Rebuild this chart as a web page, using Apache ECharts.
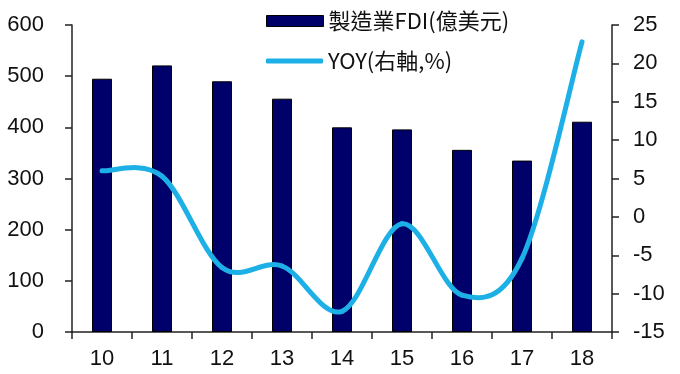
<!DOCTYPE html>
<html>
<head>
<meta charset="utf-8">
<script src="https://cdn.jsdelivr.net/npm/echarts@6/dist/echarts.min.js"></script>
<style>
html,body{margin:0;padding:0;background:#fff;}
#c{width:680px;height:374px;}
</style>
</head>
<body>
<div id="c"></div>
<script>
var categories = ['10','11','12','13','14','15','16','17','18'];
var fdiValues = [495, 521, 490, 456, 400, 396, 356, 335, 411];
var yoyValues = [6.0, 5.3, -6.6, -6.4, -12.3, -0.9, -10.2, -5.4, 22.8];
var leftTicks = {min: 0, max: 600, interval: 100};
var rightTicks = {min: -15, max: 25, interval: 5};
var seriesNames = ['製造業FDI(億美元)', 'YOY(右軸,%)'];

var numFont = "'Liberation Sans', Arial, sans-serif";
var cjkFont = "'Noto Sans CJK TC', 'Noto Sans CJK SC', sans-serif";
var axisColor = '#222';
var lineColor = '#1cb0e6';

// Catmull-Rom style smooth segment through the axis coordinates (Excel-like smoothing)
function renderSegment(params, api) {
  var i = params.dataIndex;
  var n = yoyValues.length;
  if (i >= n - 1) return null;
  function pt(k) {
    k = Math.max(0, Math.min(n - 1, k));
    return api.coord([k, yoyValues[k]]);
  }
  var p0 = pt(i - 1), p1 = pt(i), p2 = pt(i + 1), p3 = pt(i + 2);
  var t = 1 / 6;
  return {
    type: 'bezierCurve',
    z2: 10,
    shape: {
      x1: p1[0], y1: p1[1],
      cpx1: p1[0] + (p2[0] - p0[0]) * t, cpy1: p1[1] + (p2[1] - p0[1]) * t,
      cpx2: p2[0] - (p3[0] - p1[0]) * t, cpy2: p2[1] - (p3[1] - p1[1]) * t,
      x2: p2[0], y2: p2[1]
    },
    style: {stroke: lineColor, lineWidth: 5, fill: null, lineCap: 'round'}
  };
}

var chart = echarts.init(document.getElementById('c'), null, {renderer: 'canvas'});
chart.setOption({
  animation: false,
  backgroundColor: '#fff',
  grid: {left: 72, right: 68, top: 25, bottom: 42, containLabel: false},
  legend: [
    {
      data: [{name: seriesNames[0], icon: 'rect'}], orient: 'vertical', left: 261, top: 5,
      itemWidth: 57, itemHeight: 11, itemGap: 0,
      textStyle: {fontFamily: cjkFont, fontSize: 22, color: '#111'},
      itemStyle: {borderColor: '#000', borderWidth: 1}
    },
    {
      data: [{name: seriesNames[1], icon: 'roundRect'}], orient: 'vertical', left: 261, top: 45,
      itemWidth: 57, itemHeight: 5, itemGap: 0,
      textStyle: {fontFamily: cjkFont, fontSize: 22, color: '#111'},
      itemStyle: {color: lineColor, borderWidth: 0}
    }
  ],
  xAxis: {
    type: 'category',
    data: categories,
    boundaryGap: true,
    axisLine: {lineStyle: {color: axisColor, width: 1.5}},
    axisTick: {show: true, length: 7, alignWithLabel: false, lineStyle: {color: axisColor, width: 1.5}},
    axisLabel: {fontFamily: numFont, fontSize: 22, color: '#111', margin: 16}
  },
  yAxis: [
    {
      type: 'value', position: 'left',
      min: leftTicks.min, max: leftTicks.max, interval: leftTicks.interval,
      axisLine: {show: true, lineStyle: {color: axisColor, width: 1.5}},
      axisTick: {show: true, length: 7, lineStyle: {color: axisColor, width: 1.5}},
      splitLine: {show: false},
      axisLabel: {fontFamily: numFont, fontSize: 22, color: '#111', margin: 28}
    },
    {
      type: 'value', position: 'right',
      min: rightTicks.min, max: rightTicks.max, interval: rightTicks.interval,
      axisLine: {show: true, lineStyle: {color: axisColor, width: 1.5}},
      axisTick: {show: true, length: 7, lineStyle: {color: axisColor, width: 1.5}},
      splitLine: {show: false},
      axisLabel: {fontFamily: numFont, fontSize: 22, color: '#111', margin: 21}
    }
  ],
  series: [
    {
      name: seriesNames[0], type: 'bar', yAxisIndex: 0, z: 2,
      data: fdiValues, barWidth: 20,
      itemStyle: {color: '#00006b', borderColor: '#000', borderWidth: 1}
    },
    {
      name: seriesNames[1], type: 'custom', yAxisIndex: 1, z: 5,
      data: yoyValues.map(function (v, k) { return [k, v]; }),
      encode: {x: 0, y: 1},
      clip: false,
      renderItem: renderSegment,
      itemStyle: {color: lineColor}
    }
  ]
});
</script>
</body>
</html>
